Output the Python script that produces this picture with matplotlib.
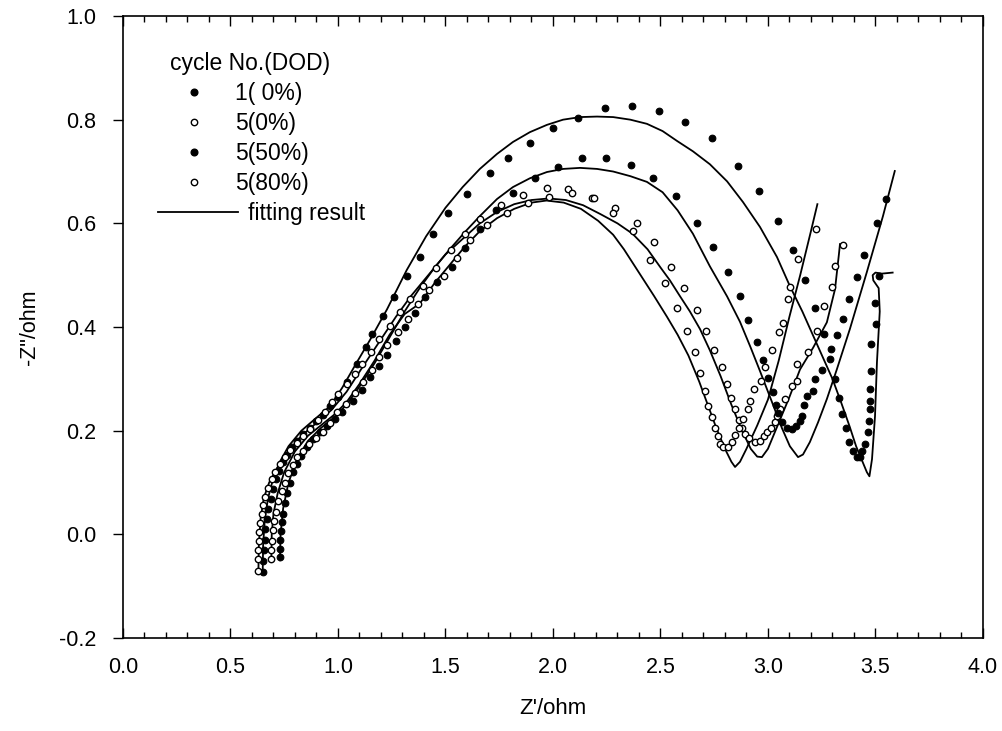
import matplotlib
matplotlib.use("Agg")
import matplotlib.pyplot as plt
from matplotlib.lines import Line2D

plt.rcParams['font.family'] = ['Liberation Sans', 'DejaVu Sans']

# 1( 0%) - filled
s1_x = [0.651, 0.651, 0.656, 0.660, 0.662, 0.670, 0.676, 0.688, 0.698, 0.712, 0.726, 0.745, 0.763, 0.786,
        0.809, 0.838, 0.870, 0.900, 0.930, 0.965, 1.000, 1.040, 1.090, 1.130, 1.160, 1.210, 1.260, 1.320,
        1.380, 1.440, 1.510, 1.600, 1.707, 1.790, 1.893, 2.000, 2.116, 2.240, 2.367, 2.493, 2.614, 2.740,
        2.860, 2.958, 3.047, 3.116, 3.172, 3.219, 3.260, 3.290, 3.312, 3.330, 3.344, 3.363, 3.377, 3.395,
        3.413, 3.430, 3.437, 3.450, 3.465, 3.470, 3.474, 3.476, 3.474, 3.479, 3.479, 3.502, 3.498, 3.516]
s1_y = [-0.073, -0.052, -0.030, -0.010, 0.010, 0.030, 0.048, 0.068, 0.087, 0.106, 0.122, 0.139, 0.154, 0.168,
        0.180, 0.193, 0.206, 0.218, 0.230, 0.247, 0.265, 0.293, 0.328, 0.361, 0.386, 0.421, 0.457, 0.498,
        0.535, 0.580, 0.620, 0.656, 0.697, 0.726, 0.755, 0.784, 0.803, 0.822, 0.826, 0.816, 0.795, 0.764,
        0.710, 0.662, 0.604, 0.548, 0.490, 0.436, 0.386, 0.338, 0.299, 0.264, 0.232, 0.205, 0.178, 0.160,
        0.149, 0.150, 0.160, 0.174, 0.197, 0.218, 0.241, 0.258, 0.280, 0.315, 0.367, 0.405, 0.446, 0.498]

# 5(0%) - open
s2_x = [0.628, 0.628, 0.628, 0.633, 0.633, 0.637, 0.646, 0.651, 0.660, 0.674, 0.693, 0.707, 0.730, 0.753,
        0.777, 0.809, 0.838, 0.870, 0.907, 0.940, 0.972, 1.000, 1.042, 1.079, 1.112, 1.153, 1.190, 1.242,
        1.288, 1.335, 1.395, 1.456, 1.526, 1.590, 1.660, 1.758, 1.860, 1.970, 2.070, 2.180, 2.290, 2.390,
        2.470, 2.550, 2.610, 2.670, 2.710, 2.749, 2.786, 2.810, 2.828, 2.847, 2.865, 2.879, 2.893, 2.910,
        2.940, 2.963, 2.980, 2.995, 3.014, 3.033, 3.042, 3.056, 3.080, 3.112, 3.135, 3.135, 3.186, 3.228,
        3.260, 3.298, 3.312, 3.349]
s2_y = [-0.070, -0.048, -0.030, -0.013, 0.004, 0.021, 0.039, 0.056, 0.073, 0.090, 0.106, 0.120, 0.135, 0.149,
        0.162, 0.176, 0.190, 0.204, 0.220, 0.237, 0.255, 0.270, 0.290, 0.309, 0.328, 0.351, 0.376, 0.402,
        0.428, 0.454, 0.480, 0.513, 0.548, 0.579, 0.608, 0.635, 0.654, 0.668, 0.666, 0.649, 0.629, 0.600,
        0.564, 0.515, 0.475, 0.432, 0.392, 0.355, 0.322, 0.291, 0.263, 0.241, 0.220, 0.206, 0.193, 0.185,
        0.178, 0.180, 0.189, 0.197, 0.206, 0.216, 0.228, 0.241, 0.262, 0.286, 0.295, 0.328, 0.351, 0.392,
        0.440, 0.477, 0.517, 0.558]

# 5(50%) - filled
s3_x = [0.730, 0.730, 0.730, 0.735, 0.740, 0.745, 0.753, 0.763, 0.777, 0.790, 0.810, 0.830, 0.855, 0.885,
        0.916, 0.948, 0.985, 1.020, 1.070, 1.110, 1.150, 1.190, 1.230, 1.270, 1.310, 1.358, 1.405, 1.460,
        1.530, 1.590, 1.660, 1.735, 1.814, 1.916, 2.023, 2.135, 2.247, 2.363, 2.465, 2.572, 2.670, 2.744,
        2.814, 2.870, 2.907, 2.949, 2.977, 3.000, 3.023, 3.037, 3.047, 3.065, 3.088, 3.112, 3.130, 3.149,
        3.157, 3.170, 3.180, 3.210, 3.220, 3.250, 3.293, 3.321, 3.350, 3.377, 3.413, 3.447, 3.507, 3.549]
s3_y = [-0.044, -0.028, -0.010, 0.006, 0.023, 0.040, 0.060, 0.080, 0.100, 0.120, 0.135, 0.152, 0.168, 0.183,
        0.197, 0.209, 0.222, 0.237, 0.257, 0.278, 0.303, 0.325, 0.346, 0.373, 0.400, 0.427, 0.458, 0.487,
        0.516, 0.552, 0.589, 0.625, 0.658, 0.687, 0.708, 0.726, 0.726, 0.712, 0.687, 0.652, 0.600, 0.554,
        0.506, 0.459, 0.413, 0.371, 0.336, 0.301, 0.274, 0.249, 0.235, 0.216, 0.206, 0.203, 0.209, 0.218,
        0.228, 0.250, 0.266, 0.276, 0.300, 0.317, 0.357, 0.384, 0.415, 0.454, 0.496, 0.539, 0.600, 0.647]

# 5(80%) - open
s4_x = [0.688, 0.688, 0.693, 0.698, 0.702, 0.712, 0.720, 0.740, 0.753, 0.767, 0.790, 0.810, 0.837, 0.865,
        0.898, 0.930, 0.962, 0.995, 1.037, 1.079, 1.116, 1.158, 1.190, 1.228, 1.280, 1.326, 1.372, 1.423,
        1.493, 1.553, 1.614, 1.693, 1.786, 1.884, 1.980, 2.090, 2.190, 2.280, 2.370, 2.450, 2.520, 2.577,
        2.625, 2.660, 2.684, 2.707, 2.720, 2.740, 2.753, 2.767, 2.777, 2.790, 2.814, 2.833, 2.847, 2.865,
        2.885, 2.907, 2.916, 2.935, 2.967, 2.986, 3.020, 3.051, 3.070, 3.093, 3.102, 3.140, 3.223]
s4_y = [-0.048, -0.030, -0.012, 0.008, 0.025, 0.044, 0.064, 0.083, 0.100, 0.118, 0.133, 0.149, 0.160, 0.174,
        0.185, 0.197, 0.215, 0.236, 0.251, 0.272, 0.293, 0.318, 0.342, 0.365, 0.390, 0.415, 0.444, 0.471,
        0.498, 0.533, 0.567, 0.597, 0.620, 0.639, 0.651, 0.658, 0.649, 0.620, 0.585, 0.529, 0.485, 0.436,
        0.392, 0.351, 0.311, 0.276, 0.247, 0.226, 0.206, 0.189, 0.174, 0.168, 0.168, 0.178, 0.191, 0.206,
        0.222, 0.241, 0.257, 0.280, 0.295, 0.322, 0.355, 0.390, 0.407, 0.454, 0.477, 0.531, 0.590]

# fitting results
fit1_x = [0.650, 0.652, 0.660, 0.675, 0.700, 0.730, 0.770, 0.830, 0.900, 0.963, 1.020, 1.088, 1.149, 1.228,
          1.320, 1.410, 1.500, 1.580, 1.660, 1.740, 1.814, 1.893, 1.972, 2.047, 2.126, 2.205, 2.280, 2.360,
          2.437, 2.510, 2.577, 2.651, 2.730, 2.810, 2.884, 2.963, 3.042, 3.102, 3.160, 3.230, 3.300, 3.340,
          3.380, 3.410, 3.430, 3.460, 3.472, 3.484, 3.498, 3.507, 3.520, 3.515, 3.490, 3.487, 3.500, 3.530, 3.580]
fit1_y = [-0.070, -0.020, 0.030, 0.070, 0.110, 0.140, 0.170, 0.200, 0.225, 0.247, 0.283, 0.332, 0.375, 0.434,
          0.510, 0.575, 0.630, 0.670, 0.705, 0.734, 0.757, 0.776, 0.790, 0.800, 0.805, 0.806, 0.805, 0.800,
          0.792, 0.778, 0.759, 0.739, 0.714, 0.681, 0.641, 0.593, 0.535, 0.479, 0.430, 0.365, 0.300, 0.255,
          0.208, 0.170, 0.150, 0.120, 0.112, 0.145, 0.228, 0.332, 0.430, 0.475, 0.490, 0.500, 0.505, 0.503, 0.505]

fit2_x = [0.630, 0.632, 0.640, 0.655, 0.680, 0.720, 0.770, 0.830, 0.900, 0.970, 1.040, 1.110, 1.190, 1.270,
          1.340, 1.420, 1.500, 1.580, 1.660, 1.740, 1.820, 1.900, 1.980, 2.060, 2.140, 2.220, 2.300, 2.370,
          2.440, 2.500, 2.544, 2.590, 2.637, 2.684, 2.730, 2.780, 2.830, 2.880, 2.920, 2.950, 2.972, 3.000,
          3.050, 3.100, 3.149, 3.210, 3.274, 3.312, 3.330, 3.335]
fit2_y = [-0.070, -0.020, 0.030, 0.070, 0.100, 0.130, 0.160, 0.190, 0.215, 0.240, 0.275, 0.320, 0.370, 0.420,
          0.460, 0.500, 0.540, 0.570, 0.600, 0.622, 0.637, 0.645, 0.648, 0.645, 0.635, 0.618, 0.600, 0.580,
          0.550, 0.515, 0.490, 0.460, 0.430, 0.396, 0.355, 0.305, 0.250, 0.200, 0.165, 0.150, 0.149, 0.165,
          0.215, 0.265, 0.318, 0.360, 0.409, 0.473, 0.540, 0.560]

fit3_x = [0.730, 0.733, 0.745, 0.770, 0.810, 0.860, 0.920, 0.980, 1.040, 1.100, 1.170, 1.240, 1.310, 1.380,
          1.450, 1.520, 1.590, 1.660, 1.740, 1.814, 1.893, 1.972, 2.047, 2.126, 2.205, 2.280, 2.360, 2.437,
          2.510, 2.580, 2.651, 2.730, 2.810, 2.870, 2.920, 2.963, 3.019, 3.065, 3.102, 3.140, 3.163, 3.195,
          3.233, 3.274, 3.321, 3.381, 3.460, 3.535, 3.590]
fit3_y = [-0.050, 0.000, 0.050, 0.100, 0.145, 0.180, 0.205, 0.225, 0.250, 0.285, 0.330, 0.380, 0.430, 0.475,
          0.515, 0.550, 0.583, 0.614, 0.647, 0.670, 0.687, 0.699, 0.705, 0.707, 0.705, 0.700, 0.691, 0.680,
          0.660, 0.625, 0.580, 0.517, 0.459, 0.410, 0.360, 0.315, 0.255, 0.205, 0.170, 0.149, 0.154, 0.178,
          0.216, 0.261, 0.319, 0.396, 0.506, 0.614, 0.701]

fit4_x = [0.690, 0.692, 0.700, 0.720, 0.750, 0.800, 0.860, 0.920, 0.980, 1.040, 1.100, 1.170, 1.240, 1.310,
          1.380, 1.450, 1.520, 1.590, 1.660, 1.740, 1.820, 1.900, 1.970, 2.050, 2.130, 2.210, 2.280, 2.330,
          2.400, 2.470, 2.530, 2.580, 2.630, 2.680, 2.720, 2.760, 2.800, 2.830, 2.847, 2.870, 2.900, 2.950,
          3.000, 3.050, 3.100, 3.150, 3.200, 3.230]
fit4_y = [-0.050, 0.000, 0.040, 0.080, 0.120, 0.160, 0.190, 0.210, 0.230, 0.255, 0.290, 0.335, 0.385, 0.425,
          0.445, 0.485, 0.520, 0.555, 0.585, 0.610, 0.628, 0.640, 0.644, 0.640, 0.628, 0.605, 0.578, 0.550,
          0.505, 0.460, 0.420, 0.385, 0.345, 0.295, 0.250, 0.205, 0.165, 0.140, 0.130, 0.140, 0.165, 0.210,
          0.260, 0.335, 0.420, 0.500, 0.585, 0.637]

fig = plt.figure(figsize=(10.03, 7.31), dpi=100)
ax = fig.add_axes([0.1226, 0.1272, 0.8574, 0.8509])

for fx, fy in [(fit1_x, fit1_y), (fit2_x, fit2_y), (fit3_x, fit3_y), (fit4_x, fit4_y)]:
    ax.plot(fx, fy, color="black", lw=1.3)

ax.plot(s1_x, s1_y, "o", ms=4.8, mfc="black", mec="black", mew=0.8)
ax.plot(s2_x, s2_y, "o", ms=4.6, mfc="white", mec="black", mew=1.0)
ax.plot(s3_x, s3_y, "o", ms=4.8, mfc="black", mec="black", mew=0.8)
ax.plot(s4_x, s4_y, "o", ms=4.6, mfc="white", mec="black", mew=1.0)

ax.set_xlim(0, 4)
ax.set_ylim(-0.2, 1.0)
ax.set_xticks([0, 0.5, 1.0, 1.5, 2.0, 2.5, 3.0, 3.5, 4.0])
ax.set_xticks([i / 10 for i in range(41)], minor=True)
ax.set_yticks([-0.2, 0.0, 0.2, 0.4, 0.6, 0.8, 1.0])
ax.xaxis.set_major_formatter(matplotlib.ticker.FormatStrFormatter("%.1f"))
ax.yaxis.set_major_formatter(matplotlib.ticker.FormatStrFormatter("%.1f"))
ax.tick_params(axis="x", which="both", direction="in", top=True, bottom=True, labelsize=15.5, pad=14)
ax.tick_params(axis="x", which="major", length=7, width=1)
ax.tick_params(axis="x", which="minor", length=4, width=1)
ax.tick_params(axis="y", which="major", direction="out", length=7, width=1, left=True, right=False,
               labelsize=15.5, pad=12)
for sp in ax.spines.values():
    sp.set_linewidth(1.2)

ax.set_xlabel("Z'/ohm", fontsize=16, labelpad=14)
ax.set_ylabel('-Z"/ohm', fontsize=15.5, labelpad=14)

marker_handles = [
    Line2D([], [], ls="none", marker="o", ms=4.8, mfc="black", mec="black"),
    Line2D([], [], ls="none", marker="o", ms=4.6, mfc="white", mec="black", mew=1.0),
    Line2D([], [], ls="none", marker="o", ms=4.8, mfc="black", mec="black"),
    Line2D([], [], ls="none", marker="o", ms=4.6, mfc="white", mec="black", mew=1.0),
]
leg1 = ax.legend(marker_handles, ["1( 0%)", "5(0%)", "5(50%)", "5(80%)"], title="cycle No.(DOD)",
                 loc="upper left", bbox_to_anchor=(0.055, 0.942), frameon=False, fontsize=16.5,
                 title_fontsize=16.5, alignment="left", borderpad=0, borderaxespad=0,
                 handlelength=2.1, handletextpad=0.74, labelspacing=0.30)
ax.add_artist(leg1)
line_handle = [Line2D([], [], color="black", lw=1.3)]
ax.legend(line_handle, ["fitting result"], loc="upper left", bbox_to_anchor=(0.0407, 0.701),
          frameon=False, fontsize=16.5, borderpad=0, borderaxespad=0,
          handlelength=3.5, handletextpad=0.44)

plt.savefig("out.png", dpi=100)
